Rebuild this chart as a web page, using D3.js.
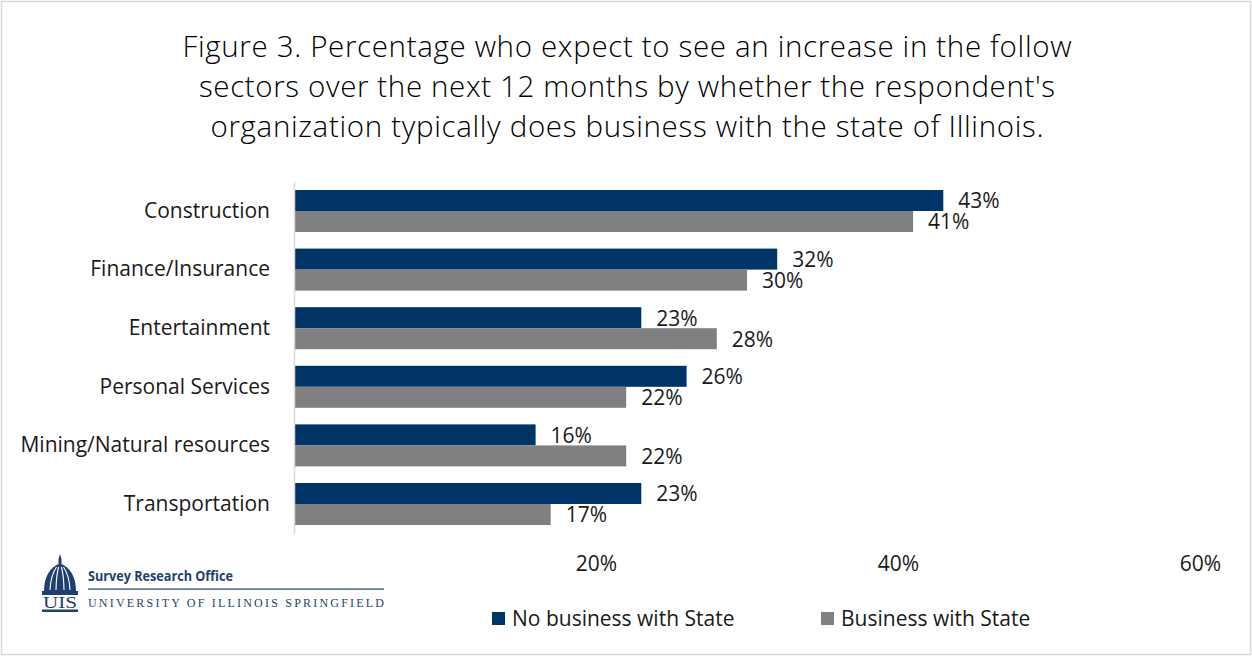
<!DOCTYPE html>
<html>
<head>
<meta charset="utf-8">
<script src="https://cdn.jsdelivr.net/npm/d3@7"></script>
<style>
  html, body { margin: 0; padding: 0; background: #fff; }
  svg { display: block; font-family: Carlito, "Open Sans", Lato, sans-serif; }
</style>
</head>
<body>
<svg id="chart" width="1252" height="656"></svg>
<script>
// Sectors, top to bottom
const categories = ["Construction", "Finance/Insurance", "Entertainment", "Personal Services", "Mining/Natural resources", "Transportation"];
// Percent expecting an increase
const noBusiness = [43, 32, 23, 26, 16, 23];
const business   = [41, 30, 28, 22, 22, 17];
const seriesNames = ["No business with State", "Business with State"];
const tickValues = [20, 40, 60];
const titleLines = [
  "Figure 3. Percentage who expect to see an increase in the follow",
  "sectors over the next 12 months by whether the respondent's",
  "organization typically does business with the state of Illinois."
];
const titleWidths = [889, 856, 833];

const colors = ["#003366", "#808080"];
const navy = "#1f3f6e";
const textColor = "#1a1a1a";
const labelFont = "'Open Sans', Lato, sans-serif";
const labelSize = 21;

const svg = d3.select("#chart");

// outer frame
svg.append("rect")
  .attr("x", 1.5).attr("y", 1.5).attr("width", 1249).attr("height", 653)
  .attr("fill", "#fff").attr("stroke", "#d9d9d9").attr("stroke-width", 1.5);

// title
svg.append("g").selectAll("text").data(titleLines).join("text")
  .attr("x", 627).attr("y", (d, i) => 57 + i * 40)
  .attr("text-anchor", "middle")
  .attr("font-family", labelFont)
  .attr("font-size", 29.5).attr("font-weight", 300).attr("fill", "#000")
  .attr("textLength", (d, i) => titleWidths[i]).attr("lengthAdjust", "spacing")
  .text(d => d);

// scales
const x = d3.scaleLinear().domain([0, 60]).range([294, 1200]);
const y = d3.scaleBand().domain(categories).range([181.7, 533.3])
  .paddingInner(0.283).paddingOuter(0.1415);
const bh = y.bandwidth() / 2;

const rows = categories.map((c, i) => ({ c, vals: [noBusiness[i], business[i]] }));

const g = svg.append("g");
const row = g.selectAll("g.row").data(rows).join("g").attr("class", "row");

row.selectAll("rect").data(d => d.vals.map((v, k) => ({ c: d.c, v, k }))).join("rect")
  .attr("x", x(0))
  .attr("y", d => y(d.c) + d.k * bh)
  .attr("width", d => x(d.v) - x(0))
  .attr("height", bh)
  .attr("fill", d => colors[d.k]);

row.selectAll("text.val").data(d => d.vals.map((v, k) => ({ c: d.c, v, k }))).join("text")
  .attr("class", "val")
  .attr("x", d => x(d.v) + 15)
  .attr("y", d => y(d.c) + d.k * bh + bh / 2)
  .attr("dy", "0.38em")
  .attr("font-family", labelFont)
  .attr("font-size", labelSize).attr("fill", textColor)
  .text(d => d.v + "%");

// category axis
const yAxis = svg.append("g").attr("transform", `translate(${x(0)},0)`)
  .call(d3.axisLeft(y).tickSize(0).tickPadding(24));
yAxis.select(".domain").attr("stroke", "#d9d9d9").attr("stroke-width", 1.5);
yAxis.selectAll(".tick text").attr("font-size", labelSize).attr("fill", textColor)
  .attr("font-family", labelFont);

// value axis (labels only)
const xAxis = svg.append("g").attr("transform", `translate(0,533)`)
  .call(d3.axisBottom(x).tickValues(tickValues).tickSize(0).tickPadding(23).tickFormat(d => d + "%"));
xAxis.select(".domain").remove();
xAxis.selectAll(".tick text").attr("font-size", labelSize).attr("fill", textColor)
  .attr("font-family", labelFont);

// legend
const legendX = [492, 821];
const leg = svg.append("g").selectAll("g").data(seriesNames).join("g")
  .attr("transform", (d, i) => `translate(${legendX[i]},612)`);
leg.append("rect").attr("width", 13).attr("height", 13).attr("fill", (d, i) => colors[i]);
leg.append("text").attr("x", 20).attr("y", 7).attr("dy", "0.35em")
  .attr("font-family", labelFont)
  .attr("font-size", labelSize).attr("fill", textColor).text(d => d);

// Survey Research Office logo
const logo = svg.append("g");
// lantern
logo.append("path").attr("fill", navy)
  .attr("d", "M60,554 L61.5,559 L61.5,564 L58.5,564 L58.5,559 Z");
// dome
logo.append("path").attr("fill", navy)
  .attr("d", "M44,591 C44,577 50,567 60,563.5 C70,567 76,577 76,591 Z");
// ribs
[-10, -4, 4, 10].forEach(o => {
  logo.append("path").attr("fill", "none").attr("stroke", "#fff").attr("stroke-width", 1.1)
    .attr("d", `M${60 + o * 0.35},567 Q${60 + o * 0.95},576 ${60 + o},590`);
});
logo.append("rect").attr("x", 42).attr("y", 591).attr("width", 36).attr("height", 4).attr("fill", navy);
logo.append("text").attr("x", 60).attr("y", 608).attr("text-anchor", "middle")
  .attr("font-family", "'Liberation Serif', 'DejaVu Serif', serif").attr("font-size", 17)
  .attr("textLength", 34).attr("lengthAdjust", "spacingAndGlyphs")
  .attr("fill", navy).text("UIS");
logo.append("rect").attr("x", 42).attr("y", 609.5).attr("width", 36).attr("height", 2.5).attr("fill", navy);
logo.append("text").attr("x", 88).attr("y", 581)
  .attr("font-family", "'Open Sans', Lato, sans-serif").attr("font-weight", 700).attr("font-size", 14)
  .attr("textLength", 145).attr("lengthAdjust", "spacingAndGlyphs")
  .attr("fill", navy).text("Survey Research Office");
logo.append("rect").attr("x", 88).attr("y", 588.5).attr("width", 296).attr("height", 1.2).attr("fill", navy);
logo.append("text").attr("x", 88).attr("y", 607)
  .attr("font-family", "'Liberation Serif', 'DejaVu Serif', serif").attr("font-size", 12)
  .attr("textLength", 296).attr("lengthAdjust", "spacing")
  .attr("fill", navy).text("UNIVERSITY OF ILLINOIS SPRINGFIELD");
</script>
</body>
</html>
